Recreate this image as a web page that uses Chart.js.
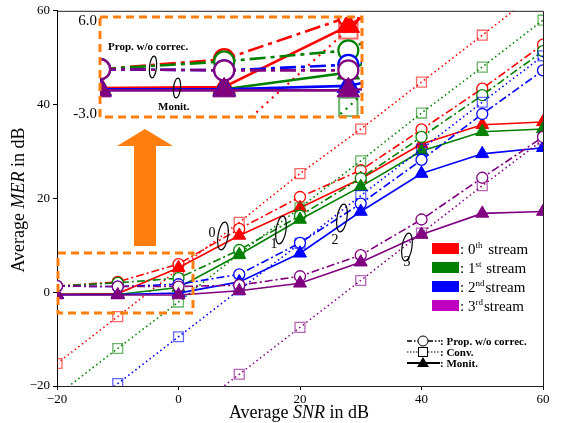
<!DOCTYPE html>
<html>
<head>
<meta charset="utf-8">
<script src="https://cdn.jsdelivr.net/npm/chart.js@4.4.1/dist/chart.umd.min.js"></script>
<style>
html, body { margin: 0; padding: 0; background: #fff; }
#wrap { position: relative; width: 570px; height: 423px; }
#main { position: absolute; left: 0; top: 0; }
#inset { position: absolute; left: 97px; top: 14px; }
</style>
</head>
<body>
<div id="wrap">
  <canvas id="main" width="570" height="423"></canvas>
  <canvas id="inset" width="268" height="106"></canvas>
</div>
<script>
// x values (SNR in dB)
const snr = [-20, -10, 0, 10, 20, 30, 40, 50, 60];
const yTicks = [-20, 0, 20, 40, 60];

// 0th stream
const prop0 = [1.3, 2.2, 6.0, 13.5, 20.3, 26.0, 34.7, 43.4, 52.8];
const conv0 = [-15.2, -5.2, 4.9, 14.9, 25.3, 34.8, 44.8, 54.8, 64.9];
const monit0 = [-0.4, -0.3, 5.2, 12.1, 18.0, 24.2, 31.6, 35.7, 36.3];
// 1st stream
const prop1 = [1.3, 2.0, 3.0, 9.0, 16.3, 24.3, 33.1, 42.0, 51.4];
const conv1 = [-22.0, -12.0, -2.1, 8.2, 18.0, 28.0, 38.2, 48.0, 58.0];
const monit1 = [-0.5, -0.5, 1.0, 8.0, 15.5, 22.5, 30.1, 34.2, 34.8];
// 2nd stream
const prop2 = [1.3, 1.2, 1.7, 3.8, 10.5, 18.9, 28.2, 38.0, 47.3];
const conv2 = [-29.5, -19.5, -9.5, 0.5, 10.4, 20.6, 30.5, 40.5, 50.4];
const monit2 = [-0.5, -0.5, -0.2, 2.2, 8.3, 17.2, 25.3, 29.5, 30.8];
// 3rd stream
const prop3 = [1.3, 1.2, 1.2, 1.5, 3.4, 7.9, 15.5, 24.4, 33.1];
const conv3 = [-47.5, -37.5, -27.5, -17.5, -7.5, 2.5, 12.6, 22.7, 32.5];
const monit3 = [-0.6, -0.6, -0.6, 0.3, 1.9, 6.4, 12.3, 16.8, 17.2];

const streamLabels = ["0", "1", "2", "3"];
const streamSups = ["th", "st", "nd", "rd"];
const lineColors = ["#ff0000", "#008000", "#0000ff", "#800080"];
const convColors = ["rgba(255,0,0,0.6)", "rgba(0,128,0,0.6)", "rgba(0,0,255,0.6)", "rgba(128,0,128,0.6)"];
const swatchColors = ["#ff0000", "#008000", "#0000ff", "#c000c0"];
const props = [prop0, prop1, prop2, prop3];
const convs = [conv0, conv1, conv2, conv3];
const monits = [monit0, monit1, monit2, monit3];

const serif = "'Liberation Serif', 'DejaVu Serif', serif";
const orange = "#ff7f0e";

function pts(arr) {
    return snr.map((x, i) => ({ x: x, y: arr[i] }));
}

function makeSets(big) {
    const sets = [];
    for (let s = 0; s < 4; s++) {
        const c = lineColors[s];
        const ord = (3 - s) * 3;
        sets.push({
            data: pts(convs[s]),
            borderColor: c,
            borderWidth: big ? 2.2 : 1.6,
            borderDash: big ? [2, 5] : [1.5, 3],
            pointStyle: "rect",
            pointRadius: big ? 13 : 7,
            pointBorderColor: convColors[s],
            pointBackgroundColor: "rgba(255,255,255,0)",
            pointBorderWidth: big ? 2 : 1.3,
            order: ord + 2,
        });
        sets.push({
            data: pts(props[s]),
            borderColor: c,
            borderWidth: big ? 2.6 : 1.6,
            borderDash: big ? [16, 5, 4, 5] : [8, 3, 2, 3],
            pointStyle: "circle",
            pointRadius: big ? 10 : 5.5,
            pointBorderColor: c,
            pointBackgroundColor: "#fff",
            pointBorderWidth: big ? 2.2 : 1.3,
            order: ord + 1,
        });
        sets.push({
            data: pts(monits[s]),
            borderColor: c,
            borderWidth: big ? 2.6 : 1.6,
            pointStyle: "triangle",
            pointRadius: big ? 13 : 7.5,
            pointBorderColor: c,
            pointBackgroundColor: c,
            pointBorderWidth: 1,
            order: ord,
        });
    }
    return sets;
}

function loop(ctx, x, y, rx, ry, rot) {
    ctx.save();
    ctx.strokeStyle = "#000";
    ctx.lineWidth = 1.2;
    ctx.beginPath();
    ctx.ellipse(x, y, rx, ry, rot, 0, Math.PI * 2);
    ctx.stroke();
    ctx.restore();
}

const mainDecor = {
    id: "mainDecor",
    afterDraw(chart) {
        const ctx = chart.ctx;
        const a = chart.chartArea;
        ctx.save();
        // frame top and right
        ctx.strokeStyle = "#222";
        ctx.lineWidth = 1;
        ctx.beginPath();
        ctx.moveTo(a.left, a.top + 0.5);
        ctx.lineTo(a.right + 0.5, a.top + 0.5);
        ctx.lineTo(a.right + 0.5, a.bottom);
        ctx.stroke();

        // zoom box
        ctx.strokeStyle = orange;
        ctx.lineWidth = 3;
        ctx.setLineDash([8, 5]);
        ctx.strokeRect(58, 253, 135, 60);
        ctx.setLineDash([]);

        // arrow
        ctx.fillStyle = orange;
        ctx.beginPath();
        ctx.moveTo(134, 246);
        ctx.lineTo(156, 246);
        ctx.lineTo(156, 146);
        ctx.lineTo(173, 146);
        ctx.lineTo(145, 129);
        ctx.lineTo(117, 146);
        ctx.lineTo(134, 146);
        ctx.closePath();
        ctx.fill();

        // stream loops
        ctx.fillStyle = "#000";
        ctx.font = "14px " + serif;
        ctx.textAlign = "center";
        ctx.textBaseline = "middle";
        loop(ctx, 223, 236, 5, 14, 0.15);
        ctx.fillText("0", 212, 233);
        loop(ctx, 281, 230, 5, 14, 0.15);
        ctx.fillText("1", 274, 244);
        loop(ctx, 342, 218, 5, 14, 0.15);
        ctx.fillText("2", 335, 240);
        loop(ctx, 407, 247, 5, 14, 0.15);
        ctx.fillText("3", 407, 262);

        // stream legend
        ctx.textAlign = "left";
        ctx.textBaseline = "alphabetic";
        for (let s = 0; s < 4; s++) {
            const yc = 249 + s * 19;
            ctx.fillStyle = swatchColors[s];
            ctx.fillRect(432, yc - 6, 27, 11);
            ctx.fillStyle = "#000";
            ctx.font = "15px " + serif;
            let x = 460;
            const base = yc + 5;
            ctx.fillText(": " + streamLabels[s], x, base);
            x += ctx.measureText(": " + streamLabels[s]).width;
            ctx.font = "9px " + serif;
            ctx.fillText(streamSups[s], x, base - 6);
            x += ctx.measureText(streamSups[s]).width + (s === 0 ? 2 : 1);
            ctx.font = "15px " + serif;
            ctx.fillText(" stream".slice(s >= 2 ? 1 : 0), x, base);
        }

        // line-style legend
        const rows = [
            { y: 341, dash: [5, 2, 1.5, 2], shape: "circle", w: 1.3, text: ": Prop. w/o correc." },
            { y: 352, dash: [1.5, 1.5], shape: "square", w: 1, text: ": Conv." },
            { y: 363, dash: [], shape: "triangle", w: 2.2, text: ": Monit." },
        ];
        rows.forEach((r) => {
            ctx.strokeStyle = "#000";
            ctx.lineWidth = r.w;
            ctx.setLineDash(r.dash);
            ctx.beginPath();
            ctx.moveTo(407, r.y);
            ctx.lineTo(440, r.y);
            ctx.stroke();
            ctx.setLineDash([]);
            ctx.lineWidth = 1;
            if (r.shape === "circle") {
                ctx.fillStyle = "#fff";
                ctx.beginPath();
                ctx.arc(423, r.y, 5, 0, Math.PI * 2);
                ctx.fill();
                ctx.stroke();
            } else if (r.shape === "square") {
                ctx.fillStyle = "#fff";
                ctx.fillRect(418, r.y - 5, 10, 10);
                ctx.strokeRect(418.5, r.y - 4.5, 9, 9);
            } else {
                ctx.fillStyle = "#000";
                ctx.beginPath();
                ctx.moveTo(423, r.y - 6);
                ctx.lineTo(429, r.y + 4);
                ctx.lineTo(417, r.y + 4);
                ctx.closePath();
                ctx.fill();
            }
            ctx.fillStyle = "#000";
            ctx.font = "bold 11px " + serif;
            ctx.textBaseline = "middle";
            ctx.fillText(r.text, 440, r.y + 1);
        });

        // axis titles
        ctx.textBaseline = "alphabetic";
        ctx.fillStyle = "#000";
        const parts = (mid) => [
            { t: "Average ", f: "18px " + serif },
            { t: mid, f: "italic 18px " + serif },
            { t: " in dB", f: "18px " + serif },
        ];
        const drawParts = (ps, cx, cy) => {
            let total = 0;
            ps.forEach((p) => { ctx.font = p.f; total += ctx.measureText(p.t).width; });
            let x = cx - total / 2;
            ps.forEach((p) => { ctx.font = p.f; ctx.fillText(p.t, x, cy); x += ctx.measureText(p.t).width; });
        };
        drawParts(parts("SNR"), 299, 418);
        ctx.save();
        ctx.translate(24, 200);
        ctx.rotate(-Math.PI / 2);
        drawParts(parts("MER"), 0, 0);
        ctx.restore();

        // inset scale labels
        ctx.font = "15px " + serif;
        ctx.textAlign = "right";
        ctx.textBaseline = "middle";
        ctx.fillText("6.0", 97, 21);
        ctx.fillText("-3.0", 97, 114);
        ctx.restore();
    },
};

const insetDecor = {
    id: "insetDecor",
    beforeDraw(chart) {
        const ctx = chart.ctx;
        const a = chart.chartArea;
        ctx.save();
        ctx.fillStyle = "#fff";
        ctx.fillRect(a.left, a.top, a.right - a.left, a.bottom - a.top);
        ctx.restore();
    },
    afterDraw(chart) {
        const ctx = chart.ctx;
        const a = chart.chartArea;
        ctx.save();
        ctx.strokeStyle = orange;
        ctx.lineWidth = 3;
        ctx.setLineDash([8, 5]);
        ctx.strokeRect(a.left, a.top, a.right - a.left, a.bottom - a.top);
        ctx.setLineDash([]);
        ctx.fillStyle = "#000";
        ctx.font = "bold 11px " + serif;
        ctx.textAlign = "left";
        ctx.textBaseline = "middle";
        ctx.fillText("Prop. w/o correc.", 11, 33);
        ctx.fillText("Monit.", 61, 93);
        loop(ctx, 56, 53, 3.5, 11, 0.1);
        loop(ctx, 80, 74, 3.5, 10, 0.1);
        ctx.restore();
    },
};

new Chart(document.getElementById("main"), {
    type: "line",
    data: { datasets: makeSets(false) },
    options: {
        responsive: false,
        animation: false,
        clip: 0,
        layout: { autoPadding: false, padding: { left: 0, right: 27, top: 9, bottom: 0 } },
        plugins: { legend: { display: false }, tooltip: { enabled: false } },
        elements: { line: { tension: 0 } },
        scales: {
            x: {
                type: "linear",
                min: -20,
                max: 60,
                afterFit: (s) => { s.height = 37; },
                afterBuildTicks: (s) => { s.ticks = yTicks.map((v) => ({ value: v })); },
                ticks: {
                    color: "#000",
                    font: { family: serif, size: 13 },
                    padding: 2,
                    maxRotation: 0,
                    callback: (v) => (v < 0 ? "\u2212" + Math.abs(v) : v),
                },
                grid: { drawOnChartArea: false, tickLength: 4, color: "#000" },
                border: { color: "#222", width: 1 },
            },
            y: {
                min: -20,
                max: 60,
                afterFit: (s) => { s.width = 57; },
                afterBuildTicks: (s) => { s.ticks = yTicks.map((v) => ({ value: v })); },
                ticks: {
                    color: "#000",
                    font: { family: serif, size: 13 },
                    padding: 3,
                    callback: (v) => (v < 0 ? "\u2212" + Math.abs(v) : v),
                },
                grid: { drawOnChartArea: false, tickLength: 4, color: "#000" },
                border: { color: "#000", width: 1 },
            },
        },
    },
    plugins: [mainDecor],
});

new Chart(document.getElementById("inset"), {
    type: "line",
    data: { datasets: makeSets(true) },
    options: {
        responsive: false,
        animation: false,
        clip: 0,
        layout: { autoPadding: false, padding: 3 },
        plugins: { legend: { display: false }, tooltip: { enabled: false } },
        elements: { line: { tension: 0 } },
        scales: {
            x: { type: "linear", min: -20, max: 1.1, display: false },
            y: { min: -3, max: 6, display: false },
        },
    },
    plugins: [insetDecor],
});
</script>
</body>
</html>
